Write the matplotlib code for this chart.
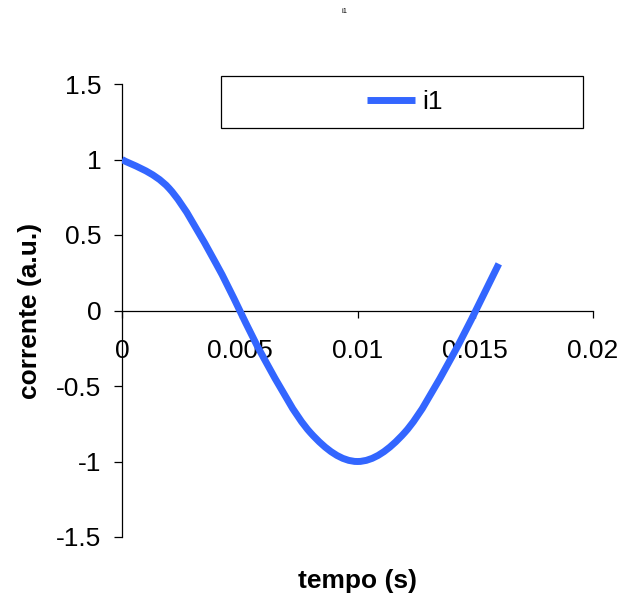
import matplotlib
matplotlib.use('Agg')
import matplotlib.pyplot as plt
from matplotlib.path import Path
from matplotlib.patches import PathPatch, Rectangle
from matplotlib.lines import Line2D

plt.rcParams['font.family'] = ['Liberation Sans', 'DejaVu Sans']

# data
tempo = [0.0, 0.002, 0.004, 0.006, 0.008, 0.010, 0.012, 0.014, 0.016]
i1 = [1.0, 0.809, 0.309, -0.309, -0.809, -1.0, -0.809, -0.309, 0.309]

xticks = [0, 0.005, 0.01, 0.015, 0.02]
xticklabels = ['0', '0.005', '0.01', '0.015', '0.02']
yticks = [-1.5, -1, -0.5, 0, 0.5, 1, 1.5]
yticklabels = ['-1.5', '-1', '-0.5', '0', '0.5', '1', '1.5']

blue = '#3366ff'
fs = 19

W, H = 631, 603
fig = plt.figure(figsize=(W / 100, H / 100), dpi=100)
ax = fig.add_axes([122 / W, 1 - 537 / H, (593 - 122) / W, (537 - 84) / H])


def smooth_path(xs, ys):
    # Excel-style smoothed line: cubic bezier through every point
    pts = list(zip(xs, ys))
    n = len(pts)
    verts = [pts[0]]
    codes = [Path.MOVETO]
    for k in range(n - 1):
        p0 = pts[max(k - 1, 0)]
        p1 = pts[k]
        p2 = pts[k + 1]
        p3 = pts[min(k + 2, n - 1)]
        c1 = (p1[0] + (p2[0] - p0[0]) / 6, p1[1] + (p2[1] - p0[1]) / 6)
        c2 = (p2[0] - (p3[0] - p1[0]) / 6, p2[1] - (p3[1] - p1[1]) / 6)
        verts += [c1, c2, p2]
        codes += [Path.CURVE4] * 3
    return Path(verts, codes)


ax.add_patch(PathPatch(smooth_path(tempo, i1), fill=False, edgecolor=blue,
                       lw=5, capstyle='butt', joinstyle='round', zorder=3))

ax.set_xlim(0, 0.02)
ax.set_ylim(-1.5, 1.5)

ax.spines['left'].set_position(('data', 0))
ax.spines['bottom'].set_position(('data', 0))
ax.spines['top'].set_visible(False)
ax.spines['right'].set_visible(False)
for s in ('left', 'bottom'):
    ax.spines[s].set_linewidth(0.9)

ax.set_xticks(xticks)
ax.set_xticklabels(xticklabels)
ax.set_yticks(yticks)
ax.set_yticklabels(yticklabels)
ax.tick_params(axis='x', direction='out', length=5, width=0.9, pad=15.5,
               labelsize=fs)
ax.tick_params(axis='y', direction='out', length=6, width=0.9, pad=9,
               labelsize=fs)

ax.set_xlabel('tempo (s)', fontsize=fs, fontweight='bold')
ax.set_ylabel('corrente (a.u.)', fontsize=fs, fontweight='bold')
ax.xaxis.set_label_coords(0.5, -0.071)
ax.yaxis.set_label_coords(-0.169, 0.5)

# legend: frame box and centered entry
fig.patches.append(Rectangle((221 / W, 1 - 128 / H), (583 - 221) / W,
                             (128 - 76) / H, transform=fig.transFigure,
                             facecolor='white', edgecolor='black', lw=0.9,
                             zorder=1))
handle = Line2D([], [], color=blue, lw=5, solid_capstyle='butt')
fig.legend(handles=[handle], labels=['i1'], loc='center',
           bbox_to_anchor=(405 / W, 1 - 102 / H), frameon=False,
           fontsize=fs, handlelength=1.8, handletextpad=0.3)

fig.text(344 / W, 1 - 11.5 / H, 'i1', fontsize=5.5, ha='center', va='center')

fig.savefig('out.png', dpi=100)
